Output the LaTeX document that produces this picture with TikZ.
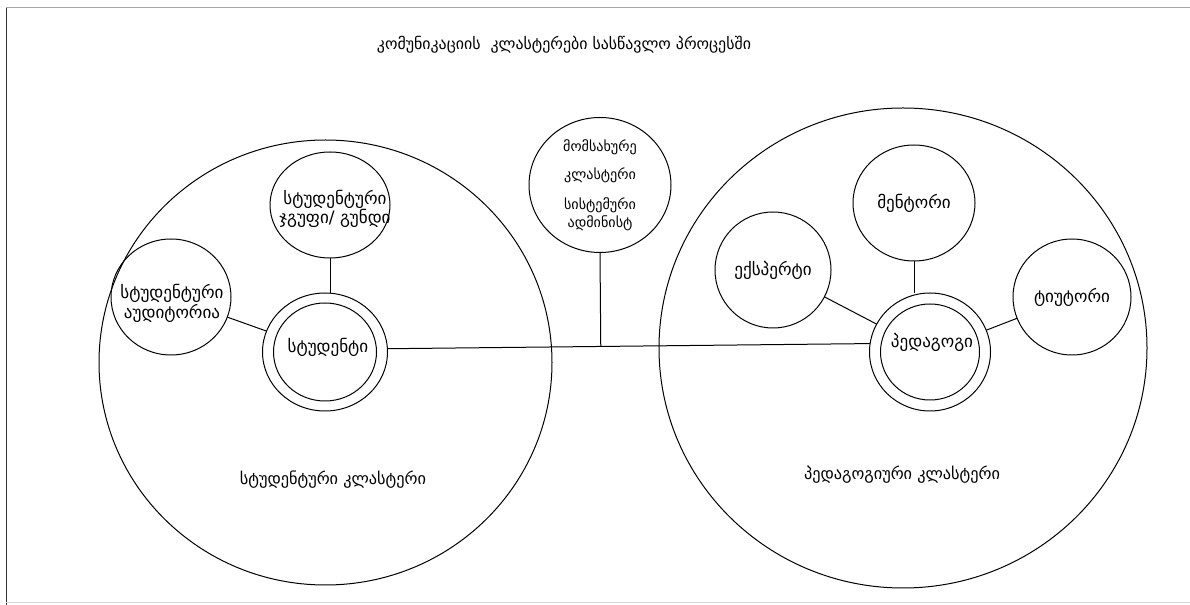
\documentclass[tikz,border=0pt]{standalone}
\usepackage{fontspec}
\setmainfont{DejaVu Sans}
\usetikzlibrary{shapes.geometric}
\begin{document}
\begin{tikzpicture}[x=0.75pt,y=-0.75pt,
  every node/.style={inner sep=0pt, outer sep=0pt},
  sz/.style 2 args={minimum width={#1*0.75pt}, minimum height={#2*0.75pt}},
  bub/.style={draw, ellipse, line width=0.75pt, align=center, font=\fontsize{12.8}{13.5}\selectfont},
  txt/.style={align=center, font=\fontsize{12.8}{15}\selectfont},
  lbl/.style={font=\fontsize{12.2}{14}\selectfont},
  con/.style={line width=0.75pt}]
\useasboundingbox (0,0) rectangle (1190,605);
\draw[black!80, line width=0.75pt] (6,605) -- (6,8);
\draw[gray!70, line width=0.75pt] (6,8) -- (1190,8);
\draw[gray!30, line width=0.75pt] (6,603) -- (1190,603);

% title
\node[font=\fontsize{11.9}{14}\selectfont] (title) at (564,45) {კომუნიკაციის\ \ კლასტერები სასწავლო პროცესში};

% big clusters
\node[bub, sz={453}{445}] (lcl) at (325.5,362.5) {};
\node[bub, sz={488}{480}] (rcl) at (903,348) {};
\node[lbl] (lclt) at (333,480) {სტუდენტური კლასტერი};
\node[lbl] (rclt) at (902,475) {პედაგოგიური კლასტერი};

% service cluster
\node[bub, sz={142}{135}, font=\fontsize{10.6}{13.5}\selectfont] (svc) at (600,185) {მომსახურე\\[7.5pt]კლასტერი\\[9pt]სისტემური\\ადმინისტ};

% student side
\node[bub, sz={120}{106}] (grp) at (330,205) {};
\node[txt, font=\fontsize{12.8}{13.5}\selectfont] (grpt) at (335,209) {სტუდენტური\\ჯგუფი/ გუნდი};
\node[bub, sz={120}{116}] (aud) at (171,297) {};
\node[txt] (audt) at (172,303) {სტუდენტური\\აუდიტორია};
\node[bub, sz={125}{118}] (stu) at (325,352) {};
\node[bub, sz={103}{98}] (stuin) at (325,352) {};
\node[txt] (stut) at (328,347) {სტუდენტი};

% pedagogue side
\node[bub, sz={116}{116}] (exp) at (773,270) {ექსპერტი};
\node[bub, sz={122}{116}] (men) at (914,203) {მენტორი};
\node[bub, sz={118}{116}] (tut) at (1072,297) {ტიუტორი};
\node[bub, sz={121}{118}] (ped) at (930,352) {};
\node[bub, sz={99}{96}] (pedin) at (930,352) {};
\node[txt] (pedt) at (932,342) {პედაგოგი};

% connectors
\path (stu.3) -- (ped.172) coordinate[pos=0.442] (j);
\draw[con] (stu.3) -- (ped.172);
\draw[con] (svc.south) -- (j);
\draw[con] (grp.south) -- (grp.south |- stu.north);
\draw[con] (aud) -- (stu);
\draw[con] (men.south) -- (men.south |- ped.north);
\draw[con] (exp) -- (ped);
\draw[con] (tut) -- (ped);
\end{tikzpicture}
\end{document}
